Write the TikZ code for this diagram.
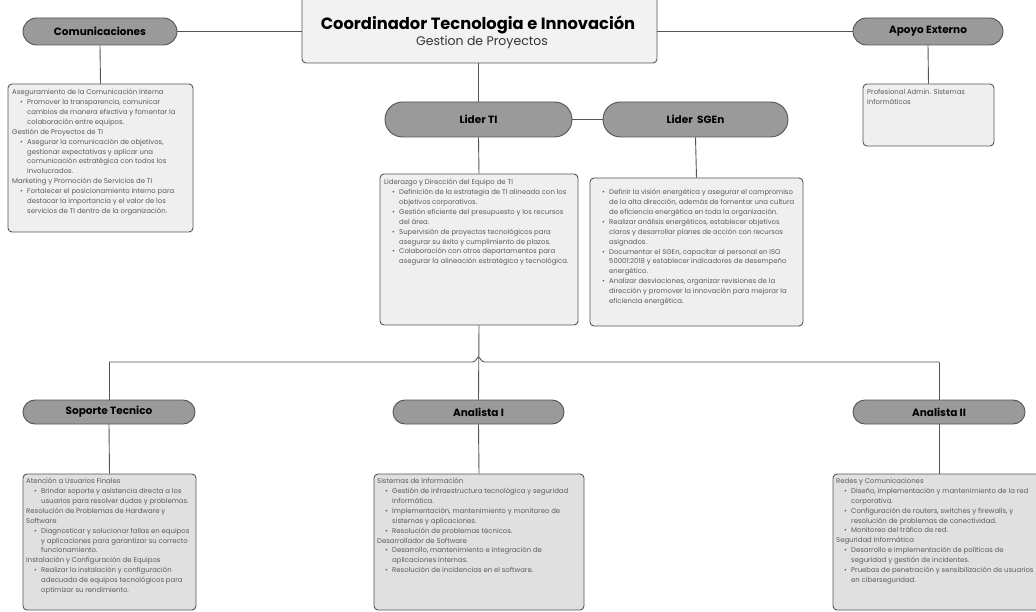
\documentclass[tikz,border=0pt]{standalone}
\usepackage{fontspec}
\setmainfont{Poppins}
\usetikzlibrary{shapes.misc}
\definecolor{pillfill}{HTML}{9A9A9A}
\definecolor{boxfill}{HTML}{EFEFEF}
\definecolor{boxfillb}{HTML}{E0E0E0}
\definecolor{edge}{HTML}{555555}
\definecolor{bodytext}{HTML}{5A5A5A}
\newcommand{\bul}{\hspace*{8pt}\makebox[7pt][l]{\textbullet}}
\newcommand{\cnt}{\hspace*{15pt}}
\tikzset{
  pill/.style={rounded rectangle, draw=edge, line width=0.9pt, fill=pillfill, inner sep=0pt,
    font=\fontsize{10.5}{12}\selectfont\bfseries, text=black},
  infobox/.style={draw=edge, line width=0.9pt, rounded corners=4pt, fill=boxfill},
  infoboxb/.style={draw=edge, line width=0.9pt, rounded corners=4pt, fill=boxfillb},
  body/.style={anchor=north west, inner sep=0pt, align=left, text=bodytext,
    font=\fontsize{6.9}{9.9}\selectfont},
  link/.style={draw=edge, line width=0.9pt}
}
\begin{document}
\begin{tikzpicture}[x=1pt,y=-1pt]
\useasboundingbox[fill=white] (0,0) rectangle (1036,612);
% coordinator
\draw[infobox, fill=boxfill!80!white] (302,-10) rectangle (657,63);
\node[inner sep=0pt] (coord) at (479.5,26.5) {};
\node[inner sep=0pt, font=\fontsize{16.3}{18}\selectfont\bfseries] (ctitle) at (478,25) {Coordinador Tecnologia e Innovación};
\node[inner sep=0pt, font=\fontsize{12.5}{14}\selectfont, text=black!80] (csub) at (482,42) {Gestion de Proyectos};
\coordinate (cW) at (302,31.5);
\coordinate (cE) at (657,31.5);
\coordinate (cS) at (478.5,63);

% pills
\node[pill, minimum width=154pt, minimum height=27pt] (com) at (100,31.5) {Comunicaciones};
\node[pill, minimum width=150pt, minimum height=27pt] (apoyo) at (928,31.5) {Apoyo Externo};
\node[pill, minimum width=187pt, minimum height=35pt] (liderti) at (478.5,119.5) {Lider TI};
\node[pill, minimum width=185pt, minimum height=35pt] (lidersgen) at (695.5,119.5) {Lider\ \ SGEn};
\node[pill, minimum width=172pt, minimum height=24pt] (soporte) at (109,412) {Soporte Tecnico};
\node[pill, minimum width=171pt, minimum height=24pt] (analista1) at (478.5,412) {Analista I};
\node[pill, minimum width=172pt, minimum height=24pt] (analista2) at (939,412) {Analista II};

% boxes
\node[infobox, minimum width=185pt, minimum height=148pt, inner sep=0pt] (combox) at (100.5,158) {};
\node[infobox, minimum width=131pt, minimum height=62pt, inner sep=0pt] (apoyobox) at (928.5,115) {};
\node[infobox, minimum width=198pt, minimum height=151pt, inner sep=0pt] (tibox) at (479,249.5) {};
\node[infobox, minimum width=213pt, minimum height=148pt, inner sep=0pt] (sgenbox) at (696.5,252) {};
\node[infoboxb, minimum width=173pt, minimum height=136pt, inner sep=0pt] (sopbox) at (109.5,542) {};
\node[infoboxb, minimum width=210pt, minimum height=136pt, inner sep=0pt] (a1box) at (479,542) {};
\node[infoboxb, minimum width=212pt, minimum height=136pt, inner sep=0pt] (a2box) at (939,542) {};

% connectors
\draw[link] (com.east) -- (cW);
\draw[link] (cE) -- (apoyo.west);
\draw[link] (com.south) -- (combox.north);
\draw[link] (apoyo.south) -- (apoyobox.north);
\draw[link] (cS) -- (liderti.north);
\draw[link] (liderti.east) -- (lidersgen.west);
\draw[link] (liderti.south) -- (tibox.north);
\draw[link] (lidersgen.south) -- (sgenbox.north);
\draw[link] (tibox.south) -- (analista1.north);
\coordinate (busL) at (109,362);
\coordinate (busR) at (939,362);
\coordinate (jumpA) at (472.5,362);
\coordinate (jumpB) at (484.5,362);
\draw[link] (busL) -- (jumpA) .. controls (476,362) and (477,357) .. (478.5,357) .. controls (480,357) and (481,362) .. (jumpB) -- (busR);
\draw[link] (busL) -- (soporte.north);
\draw[link] (busR) -- (analista2.north);
\draw[link] (soporte.south) -- (sopbox.north);
\draw[link] (analista1.south) -- (a1box.north);
\draw[link] (analista2.south) -- (a2box.north);

% texts
\node[body] (comtxt) at (12,89) {Aseguramiento de la Comunicación Interna\\
\bul Promover la transparencia, comunicar\\
\cnt cambios de manera efectiva y fomentar la\\
\cnt colaboración entre equipos.\\
Gestión de Proyectos de TI\\
\bul Asegurar la comunicación de objetivos,\\
\cnt gestionar expectativas y aplicar una\\
\cnt comunicación estratégica con todos los\\
\cnt involucrados.\\
Marketing y Promoción de Servicios de TI\\
\bul Fortalecer el posicionamiento interno para\\
\cnt destacar la importancia y el valor de los\\
\cnt servicios de TI dentro de la organización.};

\node[body] (apoyotxt) at (867,89) {Profesional Admin. Sistemas\\ Informáticos};

\node[body] (titxt) at (384,179) {Liderazgo y Dirección del Equipo de TI\\
\bul Definición de la estrategia de TI alineada con los\\
\cnt objetivos corporativos.\\
\bul Gestión eficiente del presupuesto y los recursos\\
\cnt del área.\\
\bul Supervisión de proyectos tecnológicos para\\
\cnt asegurar su éxito y cumplimiento de plazos.\\
\bul Colaboración con otros departamentos para\\
\cnt asegurar la alineación estratégica y tecnológica.};

\node[body] (sgentxt) at (594,189) {\bul Definir la visión energética y asegurar el compromiso\\
\cnt de la alta dirección, además de fomentar una cultura\\
\cnt de eficiencia energética en toda la organización.\\
\bul Realizar análisis energéticos, establecer objetivos\\
\cnt claros y desarrollar planes de acción con recursos\\
\cnt asignados.\\
\bul Documentar el SGEn, capacitar al personal en ISO\\
\cnt 50001:2018 y establecer indicadores de desempeño\\
\cnt energético.\\
\bul Analizar desviaciones, organizar revisiones de la\\
\cnt dirección y promover la innovación para mejorar la\\
\cnt eficiencia energética.};

\node[body] (soptxt) at (26,478) {Atención a Usuarios Finales\\
\bul Brindar soporte y asistencia directa a los\\
\cnt usuarios para resolver dudas y problemas.\\
Resolución de Problemas de Hardware y\\
Software\\
\bul Diagnosticar y solucionar fallas en equipos\\
\cnt y aplicaciones para garantizar su correcto\\
\cnt funcionamiento.\\
Instalación y Configuración de Equipos\\
\bul Realizar la instalación y configuración\\
\cnt adecuada de equipos tecnológicos para\\
\cnt optimizar su rendimiento.};

\node[body] (a1txt) at (377,478) {Sistemas de Información\\
\bul Gestión de infraestructura tecnológica y seguridad\\
\cnt informática.\\
\bul Implementación, mantenimiento y monitoreo de\\
\cnt sistemas y aplicaciones.\\
\bul Resolución de problemas técnicos.\\
Desarrollador de Software\\
\bul Desarrollo, mantenimiento e integración de\\
\cnt aplicaciones internas.\\
\bul Resolución de incidencias en el software.};

\node[body] (a2txt) at (836,478) {Redes y Comunicaciones\\
\bul Diseño, implementación y mantenimiento de la red\\
\cnt corporativa.\\
\bul Configuración de routers, switches y firewalls, y\\
\cnt resolución de problemas de conectividad.\\
\bul Monitoreo del tráfico de red.\\
Seguridad Informática\\
\bul Desarrollo e implementación de políticas de\\
\cnt seguridad y gestión de incidentes.\\
\bul Pruebas de penetración y sensibilización de usuarios\\
\cnt en ciberseguridad.};
\end{tikzpicture}
\end{document}
